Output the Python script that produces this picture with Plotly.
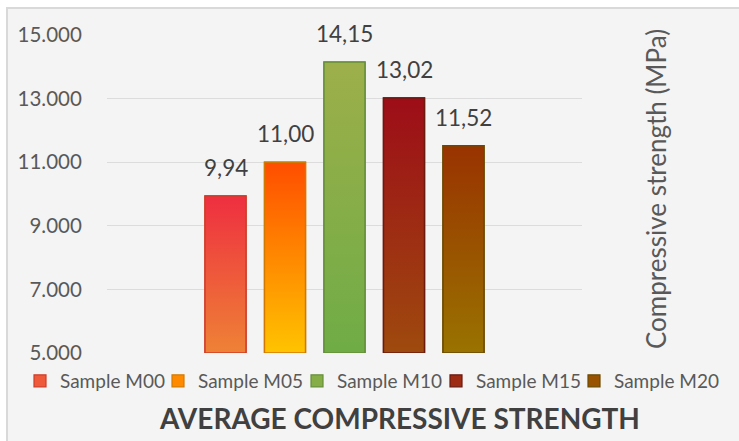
import plotly.graph_objects as go

# ---- data ----
samples = ["Sample M00", "Sample M05", "Sample M10", "Sample M15", "Sample M20"]
strength = [9.94, 11.00, 14.15, 13.02, 11.52]
value_labels = ["9,94", "11,00", "14,15", "13,02", "11,52"]
tick_vals = [5, 7, 9, 11, 13, 15]
tick_text = ["5.000", "7.000", "9.000", "11.000", "13.000", "15.000"]

# ---- styles ----
top_colors = ["#ee2f40", "#ff4d00", "#9daf4a", "#9d0d18", "#993300"]
bottom_colors = ["#ee8236", "#ffc400", "#6fac46", "#9e4a0e", "#997300"]
mid_colors = ["#ee5a3a", "#ff8a00", "#86ae48", "#9e2b13", "#995300"]
edge_colors = ["#cf3d2a", "#d27a00", "#658f3a", "#6b1a10", "#6b4a00"]
legend_px = [44, 182, 321, 460, 598]   # legend swatch centres (px)

W, H = 739, 441
ML, MR, MT, MB = 107, 157, 35, 88
PW, PH = W - ML - MR, H - MT - MB
FONT = "Lato"
bar_width = 0.69
base = tick_vals[0]


def px_x(p):
    return (p - ML) / PW


def px_y(p):
    return (H - MB - p) / PH


fig = go.Figure()

legend_ids = ["legend"] + ["legend%d" % (k + 1) for k in range(1, len(samples))]

for i, name in enumerate(samples):
    v = strength[i]
    fig.add_trace(go.Bar(
        x=[i], y=[v], width=bar_width, name=name,
        marker=dict(color=mid_colors[i], line=dict(color=edge_colors[i], width=1.2)),
        hoverinfo="skip", showlegend=True, legend=legend_ids[i],
    ))

for i, name in enumerate(samples):
    v = strength[i]
    x0, x1 = i - bar_width / 2, i + bar_width / 2
    fig.add_trace(go.Scatter(
        x=[x0, x1, x1, x0, x0], y=[base, base, v, v, base],
        mode="lines", fill="toself",
        line=dict(color=edge_colors[i], width=1.5),
        fillgradient=dict(type="vertical",
                          colorscale=[[0, bottom_colors[i]], [1, top_colors[i]]],
                          start=base, stop=v),
        hoverinfo="skip", showlegend=False,
    ))
    fig.add_annotation(x=i, y=v, text=value_labels[i], showarrow=False,
                       xanchor="center", yanchor="bottom", yshift=13,
                       font=dict(family=FONT, size=22.5, color="#404040"))

# y-axis title on the right
fig.add_annotation(xref="paper", yref="paper", x=px_x(656), y=px_y(189),
                   text="Compressive strength (MPa)", textangle=-90, showarrow=False,
                   xanchor="center", yanchor="middle",
                   font=dict(family=FONT, size=26, color="#595959"))

# bottom title
fig.add_annotation(xref="paper", yref="paper", x=px_x(399), y=px_y(418),
                   text="<b>AVERAGE COMPRESSIVE STRENGTH</b>", showarrow=False,
                   xanchor="center", yanchor="middle",
                   font=dict(family=FONT, size=28, color="#404040"))

# chart area background with border
fig.add_shape(type="rect", xref="paper", yref="paper", layer="below",
              x0=px_x(7), x1=px_x(W + 6), y0=px_y(H + 6), y1=px_y(8),
              fillcolor="#f4f4f4", line=dict(color="#d9d9d9", width=2))

legend_layouts = {}
for i, lid in enumerate(legend_ids):
    legend_layouts[lid] = dict(
        orientation="h", x=px_x(legend_px[i] - 16), y=px_y(381),
        xanchor="left", yanchor="middle", indentation=-8,
        font=dict(family=FONT, size=19, color="#595959"),
        bgcolor="rgba(0,0,0,0)", borderwidth=0,
    )

fig.update_layout(
    width=W, height=H,
    margin=dict(l=ML, r=MR, t=MT, b=MB, autoexpand=False),
    paper_bgcolor="#ffffff", plot_bgcolor="#f4f4f4",
    barmode="overlay",
    showlegend=True,
    xaxis=dict(range=[2 - (PW / 2) / 59.5, 2 + (PW / 2) / 59.5], showgrid=False,
               zeroline=False, showticklabels=False, showline=False, fixedrange=True),
    yaxis=dict(range=[5, 15], tickvals=tick_vals, ticktext=tick_text,
               showgrid=True, gridcolor="#dcdcdc", gridwidth=1.2, zeroline=False,
               showline=False, ticks="outside", ticklen=20, tickcolor="rgba(0,0,0,0)",
               tickfont=dict(family=FONT, size=20.5, color="#595959")),
    **legend_layouts,
)

fig.write_html("out.html")
